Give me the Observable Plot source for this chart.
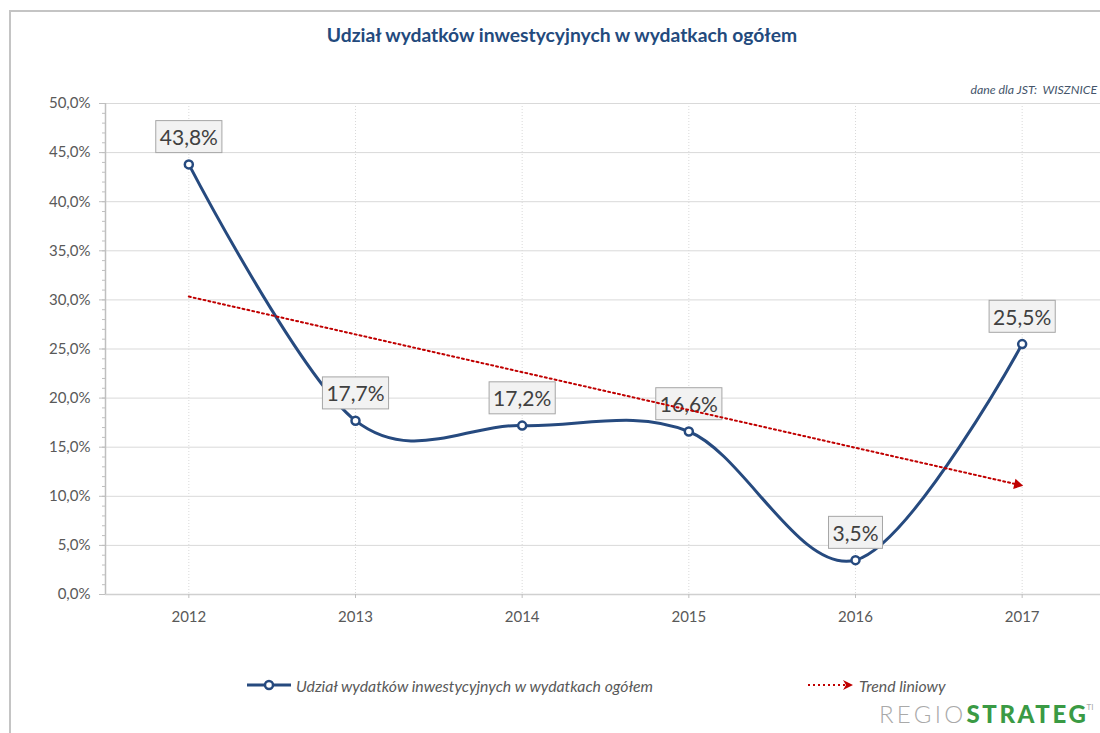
<!DOCTYPE html>
<html>
<head>
<meta charset="utf-8">
<script src="https://cdn.jsdelivr.net/npm/d3@7"></script>
<script src="https://cdn.jsdelivr.net/npm/@observablehq/plot@0.6"></script>
<style>
  html, body { margin: 0; padding: 0; background: #fff; }
  #wrap { position: relative; width: 1100px; height: 733px; overflow: hidden; font-family: Lato, "Open Sans", sans-serif; }
  #frame { position: absolute; left: 9px; top: 10px; width: 1200px; height: 800px; border-left: 2px solid #c4c4c4; border-top: 2px solid #c4c4c4; }
  #chart { position: absolute; left: 0; top: 0; }
  #title { position: absolute; left: 0; width: 1124px; top: 23px; text-align: center; font-weight: bold; font-size: 19.3px; color: #234a7d; }
  #sub { position: absolute; right: 3px; top: 82px; font-style: italic; font-size: 12.3px; color: #44546a; }
  .leg { position: absolute; top: 675px; font-style: italic; font-size: 15.8px; color: #595959; display: flex; align-items: center; }
  #logo { position: absolute; left: 879px; top: 699px; font-size: 24px; white-space: nowrap; }
  #logo .a { color: #a9a9a9; font-weight: 300; letter-spacing: 3.3px; }
  #logo .b { color: #3a9a44; font-weight: 900; letter-spacing: 2.6px; }
  #logo .c { color: #a9a9a9; font-size: 8px; vertical-align: top; position: relative; top: 3px; margin-left: -2px; }
</style>
</head>
<body>
<div id="wrap">
  <div id="frame"></div>
  <div id="chart"></div>
  <div id="title">Udział wydatków inwestycyjnych w wydatkach ogółem</div>
  <div id="sub">dane dla JST:&nbsp; WISZNICE</div>
  <div class="leg" style="left:246px;">
    <svg width="46" height="20"><line x1="1" x2="45" y1="10" y2="10" stroke="#264a7f" stroke-width="3"/><circle cx="23" cy="10" r="4" fill="#fff" stroke="#264a7f" stroke-width="2.5"/></svg>
    <span style="margin-left:4px">Udział wydatków inwestycyjnych w wydatkach ogółem</span>
  </div>
  <div class="leg" style="left:807px;">
    <svg width="48" height="20"><line x1="1" x2="40" y1="10" y2="10" stroke="#c00000" stroke-width="2" stroke-dasharray="2,3"/><path d="M36,5 L46,10 L36,15 L39,10 Z" fill="#c00000"/></svg>
    <span style="margin-left:4px">Trend liniowy</span>
  </div>
  <div id="logo"><span class="a">REGIO</span><span class="b">STRATEG</span><span class="c">TI</span></div>
</div>
<script>
// ---- data ----
const years = [2012, 2013, 2014, 2015, 2016, 2017];
const values = [43.8, 17.7, 17.2, 16.6, 3.5, 25.5];
const yMajorTicks = [0, 5, 10, 15, 20, 25, 30, 35, 40, 45, 50];
const yMinorTicks = d3.range(0, 51, 1);

const fmt = v => v.toFixed(1).replace(".", ",") + "%";
const data = years.map((year, i) => ({year, value: values[i], label: fmt(values[i])}));

// linear trend (least squares)
const mx = d3.mean(years), my = d3.mean(values);
const slope = d3.sum(years, (x, i) => (x - mx) * (values[i] - my)) / d3.sum(years, x => (x - mx) ** 2);
const trend = [years[0], years[years.length - 1]].map(x => ({year: x, value: my + slope * (x - mx)}));

const xRange = [105, 1105], yRange = [594, 103];
const xDomain = [2011.5, 2017.5], yDomain = [0, 50];
const pxPerYear = (xRange[1] - xRange[0]) / (xDomain[1] - xDomain[0]);
const pxPerUnit = (yRange[0] - yRange[1]) / (yDomain[1] - yDomain[0]);
const theta = Math.atan2(-slope * pxPerUnit, pxPerYear);
const arrowAngle = 90 + theta * 180 / Math.PI;
const arrowR = 5;

const chart = Plot.plot({
  width: 1100,
  height: 733,
  marginLeft: 105,
  marginRight: 0,
  marginTop: 103,
  marginBottom: 139,
  style: {fontFamily: "Lato, 'Open Sans', sans-serif", background: "transparent", overflow: "visible"},
  x: {domain: xDomain, range: xRange, label: null},
  y: {domain: yDomain, range: yRange, label: null},
  marks: [
    Plot.ruleX(years, {stroke: "#d9d9d9", strokeDasharray: "1,2", strokeWidth: 1}),
    Plot.ruleY(yMajorTicks.filter(d => d > 0), {stroke: "#d9d9d9", strokeWidth: 1}),
    Plot.ruleY([0], {stroke: "#d0d0d0", strokeWidth: 1.5}),
    Plot.ruleX([xDomain[0]], {stroke: "#bfbfbf", strokeWidth: 1.5}),
    Plot.axisY(yMinorTicks, {tickSize: 3, text: null, stroke: "#bfbfbf", anchor: "left", label: null}),
    Plot.axisY(yMajorTicks, {tickSize: 6, tickPadding: 9, tickFormat: fmt, fontSize: 15, fill: "#595959", stroke: "#bfbfbf", anchor: "left", label: null}),
    Plot.axisX(years, {tickSize: 4, tickPadding: 13, tickFormat: d => String(d), fontSize: 15, fill: "#595959", stroke: "#bfbfbf", anchor: "bottom", label: null}),
    Plot.line(data, {x: "year", y: "value", curve: "cardinal", stroke: "#264a7f", strokeWidth: 3}),
    Plot.dot(data, {x: "year", y: "value", r: 4, fill: "#fff", stroke: "#264a7f", strokeWidth: 2.5}),
    Plot.text(data, {x: "year", y: "value", text: "label", dy: -26, fontSize: 21, fill: "#404040", textAnchor: "middle", lineAnchor: "middle"}),
    Plot.line(trend, {x: "year", y: "value", stroke: "#c00000", strokeWidth: 2, strokeDasharray: "2,3"}),
    Plot.dot(trend.slice(1), {x: "year", y: "value", symbol: "triangle2", r: arrowR, fill: "#c00000", rotate: arrowAngle,
      dx: -arrowR * Math.cos(theta), dy: -arrowR * Math.sin(theta)})
  ]
});
document.getElementById("chart").appendChild(chart);

// boxes behind the data labels
const ns = "http://www.w3.org/2000/svg";
chart.querySelectorAll('g[aria-label="text"] text').forEach(t => {
  const b = t.getBBox();
  const r = document.createElementNS(ns, "rect");
  const h = 32;
  const cy = b.y + b.height / 2;
  r.setAttribute("x", b.x - 4);
  r.setAttribute("y", cy - h / 2);
  r.setAttribute("width", b.width + 8);
  r.setAttribute("height", h);
  r.setAttribute("fill", "#f2f2f2");
  r.setAttribute("stroke", "#a6a6a6");
  r.setAttribute("stroke-width", 1);
  const tr = t.getAttribute("transform");
  if (tr) r.setAttribute("transform", tr);
  t.parentNode.insertBefore(r, t);
});
</script>
</body>
</html>
